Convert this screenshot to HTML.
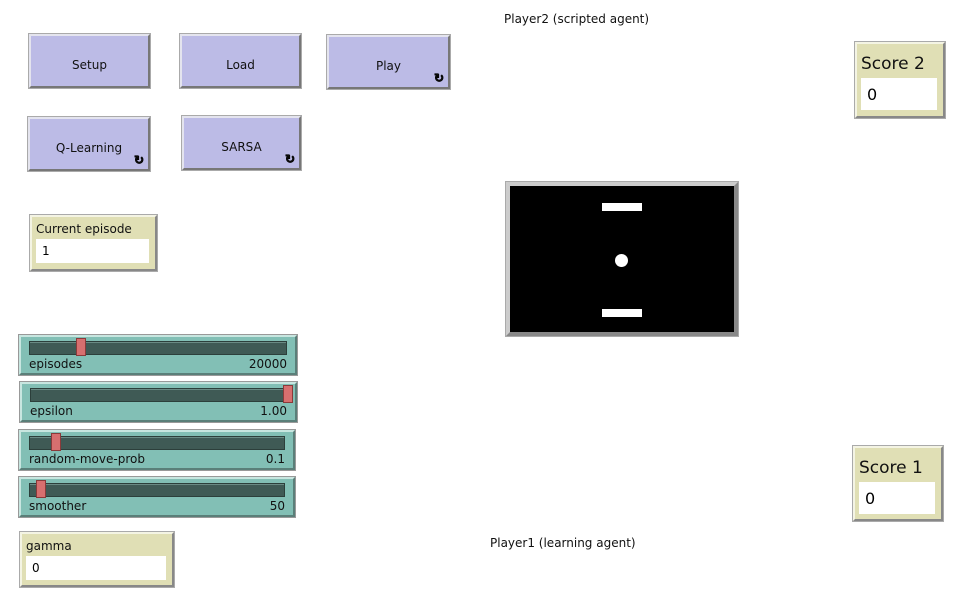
<!DOCTYPE html>
<html><head><style>
body{margin:0;width:961px;height:602px;background:#fff;position:relative;font-family:"DejaVu Sans","Liberation Sans",sans-serif;overflow:hidden}
.a{position:absolute;box-sizing:border-box}
.btn{background:#bcbbe6;border:2px solid;border-color:#e4e4ee #777 #777 #e4e4ee;outline:1px solid #aaa;font-size:12px;color:#111;display:flex;align-items:center;justify-content:center;padding-top:7px}
.rep{position:absolute;right:4px;bottom:2px;font-size:12px;font-weight:bold;-webkit-text-stroke:0.8px #000}
.mon{background:#e0dfb5;border:2px solid;border-color:#f4f4e4 #888 #888 #f4f4e4;outline:1px solid #aaa}
.mon .l{position:absolute;left:4px;top:5px;font-size:12px;color:#111}
.mon .v{position:absolute;background:#fff;font-size:12px;padding-left:6px;display:flex;align-items:center}
.sl{background:#82bfb5;border:2px solid;border-color:#c8e6e0 #5a7f79 #5a7f79 #c8e6e0;outline:1px solid #999}
.tr{position:absolute;left:8px;right:8px;top:4px;height:12px;background:#3f5a55;border:1px solid #2c3f3b;box-shadow:inset 0 1px 0 #6a8a84}
.th{position:absolute;top:1px;width:10px;height:18px;background:#d76f6f;border:1px solid #8a3a3a;box-sizing:border-box}
.sl .n{position:absolute;left:8px;top:20px;font-size:12px;color:#111}
.sl .x{position:absolute;right:8px;top:20px;font-size:12px;color:#111}
.t{position:absolute;font-size:12px;color:#111}
</style></head><body>
<div class="t" style="left:504px;top:12px">Player2 (scripted agent)</div>
<div class="t" style="left:490px;top:536px">Player1 (learning agent)</div>

<div class="a btn" style="left:29px;top:34px;width:121px;height:54px">Setup</div>
<div class="a btn" style="left:180px;top:34px;width:121px;height:54px">Load</div>
<div class="a btn" style="left:327px;top:35px;width:123px;height:54px">Play<span class="rep">&#x21BB;</span></div>
<div class="a btn" style="left:28px;top:117px;width:122px;height:54px">Q-Learning<span class="rep">&#x21BB;</span></div>
<div class="a btn" style="left:182px;top:116px;width:119px;height:54px">SARSA<span class="rep">&#x21BB;</span></div>

<div class="a mon" style="left:30px;top:215px;width:127px;height:56px"><span class="l">Current episode</span><div class="v" style="left:4px;right:6px;top:22px;height:24px">1</div></div>

<div class="a sl" style="left:19px;top:335px;width:278px;height:40px"><div class="tr"></div><div class="th" style="left:55px"></div><span class="n">episodes</span><span class="x">20000</span></div>
<div class="a sl" style="left:20px;top:382px;width:277px;height:40px"><div class="tr"></div><div class="th" style="left:261px"></div><span class="n">epsilon</span><span class="x">1.00</span></div>
<div class="a sl" style="left:19px;top:430px;width:276px;height:40px"><div class="tr"></div><div class="th" style="left:30px"></div><span class="n">random-move-prob</span><span class="x">0.1</span></div>
<div class="a sl" style="left:19px;top:477px;width:276px;height:40px"><div class="tr"></div><div class="th" style="left:15px"></div><span class="n">smoother</span><span class="x">50</span></div>

<div class="a mon" style="left:20px;top:532px;width:154px;height:55px"><span class="l">gamma</span><div class="v" style="left:4px;right:6px;top:22px;height:24px">0</div></div>

<div class="a" style="left:506px;top:182px;width:232px;height:154px;background:#000;border:4px solid;border-color:#ccc #888 #888 #ccc;outline:1px solid #aaa"></div>
<div class="a" style="left:602px;top:203px;width:40px;height:8px;background:#fff"></div>
<div class="a" style="left:602px;top:309px;width:40px;height:8px;background:#fff"></div>
<div class="a" style="left:615px;top:254px;width:13px;height:13px;background:#fff;border-radius:50%"></div>

<div class="a mon" style="left:855px;top:42px;width:90px;height:76px"><span class="l" style="font-size:17px;top:10px">Score 2</span><div class="v" style="left:4px;right:6px;top:34px;height:32px;font-size:16px">0</div></div>
<div class="a mon" style="left:853px;top:446px;width:90px;height:75px"><span class="l" style="font-size:17px;top:10px">Score 1</span><div class="v" style="left:4px;right:6px;top:34px;height:32px;font-size:16px">0</div></div>
</body></html>
